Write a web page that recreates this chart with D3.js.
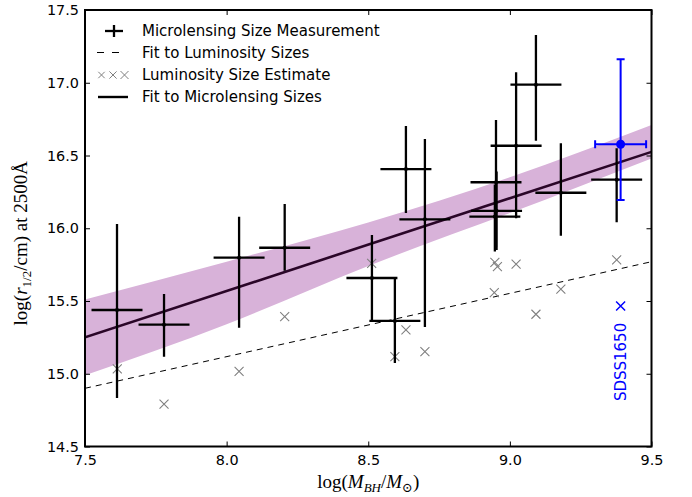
<!DOCTYPE html>
<html><head><meta charset="utf-8">
<script src="https://cdn.jsdelivr.net/npm/d3@7"></script>
<style>
html,body{margin:0;padding:0;background:#fff;}
svg{display:block;}
</style></head>
<body>
<svg id="chart" width="692" height="497"></svg>
<script>
// ---- data ----
const xTicks = [7.5, 8.0, 8.5, 9.0, 9.5];
const yTicks = [14.5, 15.0, 15.5, 16.0, 16.5, 17.0, 17.5];

// microlensing size measurements
const mlX    = [7.613, 7.779, 8.044, 8.205, 8.513, 8.594, 8.633, 8.700, 8.951, 8.953, 8.947, 9.022, 9.092, 9.180, 9.377];
const mlY    = [15.438, 15.337, 15.798, 15.866, 15.658, 15.363, 16.407, 16.061, 16.316, 16.120, 16.080, 16.567, 16.987, 16.244, 16.334];
const mlErrUp   = [0.591, 0.211, 0.281, 0.301, 0.296, 0.295, 0.296, 0.552, 0.428, 0.270, 0.220, 0.505, 0.341, 0.340, 0.215];
const mlErrDown = [0.605, 0.220, 0.482, 0.158, 0.302, 0.289, 0.302, 0.740, 0.445, 0.270, 0.240, 0.499, 0.385, 0.295, 0.293];
const mlErrX = [0.09, 0.09, 0.09, 0.09, 0.09, 0.09, 0.09, 0.09, 0.09, 0.09, 0.09, 0.09, 0.09, 0.09, 0.09];

// luminosity size estimates
const lumX = [7.614, 7.779, 8.044, 8.205, 8.512, 8.594, 8.633, 8.700, 8.947, 8.956, 8.945, 9.022, 9.092, 9.180, 9.377];
const lumY = [15.033, 14.792, 15.017, 15.392, 15.759, 15.117, 15.301, 15.152, 15.766, 15.736, 15.557, 15.754, 15.409, 15.582, 15.782];

// SDSS1650
const sdssName = "SDSS1650";
const sdssX = 9.391, sdssY = 16.577, sdssErrUp = 0.584, sdssErrDown = 0.383, sdssErrX = 0.09;
const sdssLumY = 15.466;

// fits
const fitX = [7.5, 9.5];
const fitMicroY = [15.25, 16.525];
const fitLumY = [14.90, 15.77];
const bandX = [7.5, 8.0, 8.5, 9.0, 9.5];
const bandTop = [15.51, 15.77, 16.04, 16.35, 16.71];
const bandBottom = [14.99, 15.34, 15.74, 16.105, 16.48];

const legendLabels = ["Microlensing Size Measurement", "Fit to Luminosity Sizes", "Luminosity Size Estimate", "Fit to Microlensing Sizes"];

// ---- layout ----
const L = 85, R = 651.5, T = 10, B = 446.5;
const svg = d3.select("#chart");
const x = d3.scaleLinear().domain([7.5, 9.5]).range([L, R]);
const y = d3.scaleLinear().domain([14.5, 17.5]).range([B, T]);

const plot = svg.append("g");
plot.append("defs").append("clipPath").attr("id","clip")
  .append("rect").attr("x",L).attr("y",T).attr("width",R-L).attr("height",B-T);
const cg = plot.append("g").attr("clip-path","url(#clip)");

// band
const bandData = bandX.map((v,i)=>({x:v, t:bandTop[i], b:bandBottom[i]}));
cg.append("path").datum(bandData)
  .attr("d", d3.area().curve(d3.curveNatural).x(d=>x(d.x)).y0(d=>y(d.b)).y1(d=>y(d.t)))
  .attr("fill","#d8b2d9");

// microlensing fit
const line = d3.line().x(d=>x(d[0])).y(d=>y(d[1]));
cg.append("path").datum(fitX.map((v,i)=>[v, fitMicroY[i]]))
  .attr("d", line).attr("fill","none").attr("stroke","#2a0628").attr("stroke-width",2.6);

// luminosity fit
cg.append("path").datum(fitX.map((v,i)=>[v, fitLumY[i]]))
  .attr("d", line).attr("fill","none").attr("stroke","#000").attr("stroke-width",1)
  .attr("stroke-dasharray","6,5");

// luminosity x markers
function xMark(g, cx, cy, s, color, w){
  g.append("path").attr("d", `M${cx-s},${cy-s}L${cx+s},${cy+s}M${cx-s},${cy+s}L${cx+s},${cy-s}`)
   .attr("stroke", color).attr("stroke-width", w).attr("fill","none");
}
lumX.forEach((v,i)=> xMark(cg, x(v), y(lumY[i]), 4.5, "#808080", 1.1));

// microlensing error bars
const eb = cg.append("g").attr("stroke","#000").attr("stroke-width",2.3);
mlX.forEach((v,i)=>{
  const cx = x(v), cy = y(mlY[i]);
  eb.append("line").attr("x1",x(v-mlErrX[i])).attr("x2",x(v+mlErrX[i])).attr("y1",cy).attr("y2",cy);
  eb.append("line").attr("x1",cx).attr("x2",cx).attr("y1",y(mlY[i]+mlErrUp[i])).attr("y2",y(mlY[i]-mlErrDown[i]));
  cg.append("circle").attr("cx",cx).attr("cy",cy).attr("r",2).attr("fill","#000");
});

// SDSS1650
const blue = "#0000ff";
const bg = cg.append("g").attr("stroke",blue).attr("stroke-width",2);
{
  const cx = x(sdssX), cy = y(sdssY);
  const x0 = x(sdssX - sdssErrX), x1 = x(sdssX + sdssErrX);
  const y0 = y(sdssY + sdssErrUp), y1 = y(sdssY - sdssErrDown);
  bg.append("line").attr("x1",x0).attr("x2",x1).attr("y1",cy).attr("y2",cy);
  bg.append("line").attr("x1",cx).attr("x2",cx).attr("y1",y0).attr("y2",y1);
  bg.append("line").attr("x1",x0).attr("x2",x0).attr("y1",cy-4).attr("y2",cy+4);
  bg.append("line").attr("x1",x1).attr("x2",x1).attr("y1",cy-4).attr("y2",cy+4);
  bg.append("line").attr("x1",cx-4).attr("x2",cx+4).attr("y1",y0).attr("y2",y0);
  bg.append("line").attr("x1",cx-4).attr("x2",cx+4).attr("y1",y1).attr("y2",y1);
  cg.append("circle").attr("cx",cx).attr("cy",cy).attr("r",4.5).attr("fill",blue);
  xMark(cg, x(sdssX), y(sdssLumY), 4.5, blue, 1.5);
  svg.append("text").attr("transform",`translate(${x(sdssX)+5.5},${y(sdssLumY)+56}) rotate(-90)`)
    .attr("text-anchor","middle").attr("font-family","DejaVu Sans").attr("font-size",15)
    .attr("fill",blue).text(sdssName);
}

// axes
const fmt = d3.format(".1f");
const ax = (g)=> g.selectAll("path.domain").remove();
const tickStyle = (g)=>{ g.selectAll("line").attr("stroke","#000").attr("stroke-width",1);
  g.selectAll("text").attr("font-family","DejaVu Sans").attr("font-size",14.4).attr("fill","#000"); };
svg.append("g").attr("transform",`translate(0,${B})`)
  .call(d3.axisBottom(x).tickValues(xTicks).tickFormat(fmt).tickSizeInner(-5).tickSizeOuter(0).tickPadding(8))
  .call(ax).call(tickStyle);
svg.append("g").attr("transform",`translate(0,${T})`)
  .call(d3.axisTop(x).tickValues(xTicks).tickFormat("").tickSizeInner(-5).tickSizeOuter(0))
  .call(ax).call(tickStyle);
svg.append("g").attr("transform",`translate(${L},0)`)
  .call(d3.axisLeft(y).tickValues(yTicks).tickFormat(fmt).tickSizeInner(-5).tickSizeOuter(0).tickPadding(6))
  .call(ax).call(tickStyle);
svg.append("g").attr("transform",`translate(${R},0)`)
  .call(d3.axisRight(y).tickValues(yTicks).tickFormat("").tickSizeInner(-5).tickSizeOuter(0))
  .call(ax).call(tickStyle);

// frame
svg.append("rect").attr("x",L).attr("y",T).attr("width",R-L).attr("height",B-T)
  .attr("fill","none").attr("stroke","#000").attr("stroke-width",2);

// axis labels
const serif = "'Liberation Serif', 'DejaVu Serif', serif";
const xl = svg.append("text").attr("x",(L+R)/2).attr("y",488).attr("text-anchor","middle")
  .attr("font-family",serif).attr("font-size",19);
xl.append("tspan").text("log(");
xl.append("tspan").attr("font-style","italic").text("M");
xl.append("tspan").attr("font-style","italic").attr("font-size",13).attr("dy",4).text("BH");
xl.append("tspan").attr("dy",-4).text("/");
xl.append("tspan").attr("font-style","italic").text("M");
xl.append("tspan").attr("font-size",13).attr("dy",4).text("\u2299");
xl.append("tspan").attr("dy",-4).text(")");

const yl = svg.append("text").attr("transform",`translate(27,${(T+B)/2 + 15}) rotate(-90)`)
  .attr("text-anchor","middle").attr("font-family",serif).attr("font-size",19);
yl.append("tspan").text("log(");
yl.append("tspan").attr("font-style","italic").text("r");
yl.append("tspan").attr("font-size",13).attr("dy",4).text("1/2");
yl.append("tspan").attr("dy",-4).text("/cm) at 2500\u00C5");

// legend
const lg = svg.append("g");
const rowY = [31, 52.5, 75, 97];
const tx = 142;
legendLabels.forEach((t,i)=>{
  lg.append("text").attr("x",tx).attr("y",rowY[i]).attr("dy","0.35em")
    .attr("font-family","DejaVu Sans").attr("font-size",15).attr("fill","#000").text(t);
});
// errorbar sample
lg.append("line").attr("x1",105).attr("x2",123).attr("y1",rowY[0]).attr("y2",rowY[0]).attr("stroke","#000").attr("stroke-width",2.3);
lg.append("line").attr("x1",114).attr("x2",114).attr("y1",rowY[0]-6).attr("y2",rowY[0]+6).attr("stroke","#000").attr("stroke-width",2.3);
// dashed sample
lg.append("line").attr("x1",97).attr("x2",126).attr("y1",rowY[1]).attr("y2",rowY[1]).attr("stroke","#000").attr("stroke-width",1.2).attr("stroke-dasharray","7,8");
// x sample
[[101.5,3.2],[113,3.6],[124.5,4]].forEach(([cx,s])=> xMark(lg, cx, rowY[2], s, "#808080", 1));
// solid sample
lg.append("line").attr("x1",98).attr("x2",128).attr("y1",rowY[3]).attr("y2",rowY[3]).attr("stroke","#000").attr("stroke-width",2.4);
</script>
</body></html>
